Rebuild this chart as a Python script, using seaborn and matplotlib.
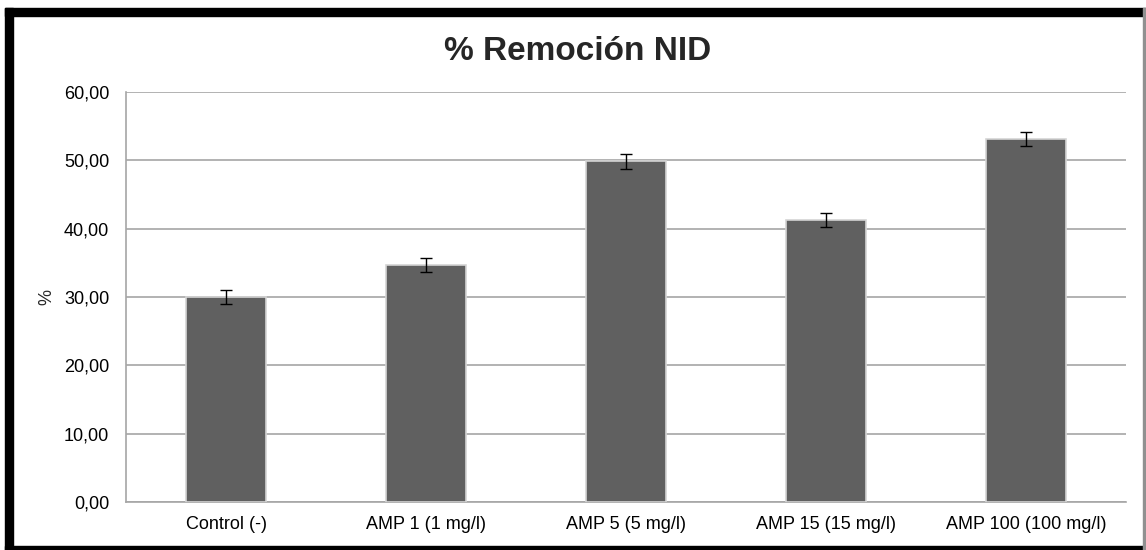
import matplotlib
matplotlib.use("Agg")
import matplotlib.pyplot as plt
import seaborn as sns
import pandas as pd
from matplotlib.patches import Rectangle
from matplotlib.ticker import FuncFormatter

categories = ["Control (-)", "AMP 1 (1 mg/l)", "AMP 5 (5 mg/l)", "AMP 15 (15 mg/l)", "AMP 100 (100 mg/l)"]
removal = [30.0, 34.7, 49.9, 41.3, 53.1]
errors = [1.0, 1.0, 1.1, 1.0, 1.0]
yticks = [0, 10, 20, 30, 40, 50, 60]

sns.set_style("white")
plt.rcParams["font.family"] = ["Liberation Sans", "DejaVu Sans"]

df = pd.DataFrame({"cat": categories, "val": removal})

fig = plt.figure(figsize=(11.46, 5.5), dpi=100)
ax = fig.add_axes([126 / 1146, 48 / 550, 1000 / 1146, 410 / 550])

sns.barplot(data=df, x="cat", y="val", color="#606060", saturation=1,
            width=0.4, edgecolor="#d4d4d4", linewidth=1.2, ax=ax, zorder=3)
ax.errorbar(range(len(categories)), removal, yerr=errors, fmt="none",
            ecolor="black", elinewidth=1, capsize=4.5, capthick=1, zorder=4)

ax.set_ylim(0, 60)
ax.set_xlim(-0.5, len(categories) - 0.5)
ax.set_yticks(yticks)
ax.yaxis.set_major_formatter(FuncFormatter(lambda v, p: f"{v:.2f}".replace(".", ",")))
ax.grid(axis="y", color="#a6a6a6", linewidth=1.2, zorder=0)
ax.set_axisbelow(True)
for s in ["top", "right"]:
    ax.spines[s].set_visible(False)
for s in ["left", "bottom"]:
    ax.spines[s].set_color("#a6a6a6")
    ax.spines[s].set_linewidth(1.2)
ax.tick_params(axis="both", length=0, labelsize=13, colors="black")
ax.tick_params(axis="y", pad=12)
ax.tick_params(axis="x", pad=10)
ax.set_xlabel("")
ax.set_ylabel("%", fontsize=13)
ax.yaxis.set_label_coords(-0.071, 0.5)

fig.text(578 / 1146, 1 - 52 / 550, "% Remoción NID", ha="center", va="center",
         fontsize=24, fontweight="bold")

# frame around the chart
W, H = 1146, 550
fig.patches.append(Rectangle((5 / W, 1 - 16 / H), 1141 / W, 8 / H, color="black", transform=fig.transFigure))
fig.patches.append(Rectangle((5 / W, 0), 8 / W, 1 - 8 / H, color="black", transform=fig.transFigure))
fig.patches.append(Rectangle((5 / W, 0), 1141 / W, 4 / H, color="black", transform=fig.transFigure))
fig.patches.append(Rectangle((1143 / W, 0), 2 / W, 1 - 8 / H, color="#909090", transform=fig.transFigure))

fig.savefig("out.png", dpi=100, facecolor="white")
